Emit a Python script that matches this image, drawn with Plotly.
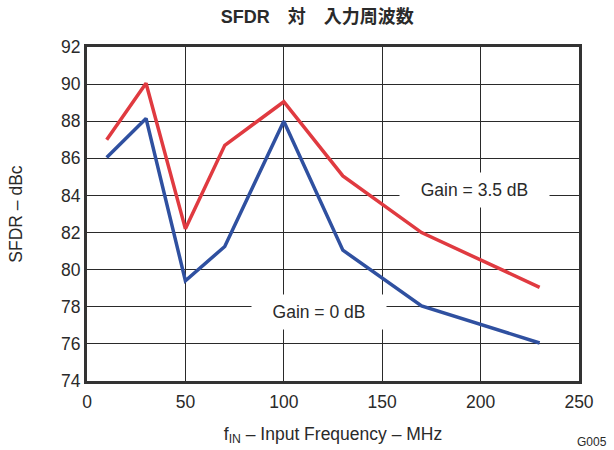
import plotly.graph_objects as go

# Input frequency (MHz) and SFDR (dBc) for two gain settings
freq_mhz = [10, 30, 50, 70, 100, 130, 170, 230]
sfdr_gain_3p5 = [87.0, 90.05, 82.2, 86.7, 89.05, 85.05, 82.0, 79.05]
sfdr_gain_0 = [86.05, 88.15, 79.4, 81.25, 88.0, 81.05, 78.05, 76.05]

x_ticks = [0, 50, 100, 150, 200, 250]
y_ticks = [74, 76, 78, 80, 82, 84, 86, 88, 90, 92]

RED = "#e03a40"
BLUE = "#2f50a0"
INK = "#2a2a2a"
FONT = "Liberation Sans, Arial, sans-serif"
SIZE = 17.5

fig = go.Figure()
fig.add_trace(go.Scatter(x=freq_mhz, y=sfdr_gain_3p5, mode="lines",
                         line=dict(color=RED, width=3.5), showlegend=False))
fig.add_trace(go.Scatter(x=freq_mhz, y=sfdr_gain_0, mode="lines",
                         line=dict(color=BLUE, width=3.5), showlegend=False))

# Series labels on white boxes that break the grid lines
fig.add_annotation(x=197, y=84.3, text="Gain = 3.5 dB", showarrow=False,
                   font=dict(size=SIZE, color=INK, family=FONT),
                   bgcolor="white", width=147, height=32)
fig.add_annotation(x=118, y=77.7, text="Gain = 0 dB", showarrow=False,
                   font=dict(size=SIZE, color=INK, family=FONT),
                   bgcolor="white", width=132, height=32)

# Figure code in the bottom-right corner
fig.add_annotation(x=1.0, y=0, xref="paper", yref="paper", text="G005",
                   showarrow=False, font=dict(size=12, color=INK, family=FONT),
                   xanchor="left", yanchor="top", xshift=-4, yshift=-52)

fig.update_layout(
    width=614, height=450,
    margin=dict(l=87, r=35, t=47, b=69),
    paper_bgcolor="white", plot_bgcolor="white",
    font=dict(family=FONT, color=INK, size=SIZE),
    title=dict(text="<b>SFDR　対　入力周波数</b>", xref="paper", x=0.468,
               xanchor="center", y=0.962, yanchor="middle",
               font=dict(size=18, color=INK,
                         family="Liberation Sans, Noto Sans CJK JP, sans-serif")),
)
fig.update_xaxes(range=[0, 250], tickvals=x_ticks, ticks="", showgrid=True,
                 gridcolor=INK, gridwidth=1, zeroline=False, showline=True,
                 mirror=True, linecolor="#333333", linewidth=3,
                 automargin=False,
                 tickfont=dict(size=SIZE, color=INK), ticklabelstandoff=3,
                 title=dict(text="f<sub>IN</sub> – Input Frequency – MHz",
                            font=dict(size=SIZE, color=INK), standoff=17))
fig.update_yaxes(range=[74, 92], tickvals=y_ticks, ticks="", showgrid=True,
                 gridcolor=INK, gridwidth=1, zeroline=False, showline=True,
                 mirror=True, linecolor="#333333", linewidth=3,
                 automargin=False,
                 tickfont=dict(size=SIZE, color=INK),
                 title=dict(text="SFDR – dBc", font=dict(size=SIZE, color=INK),
                            standoff=34))

fig.write_html("out.html")
